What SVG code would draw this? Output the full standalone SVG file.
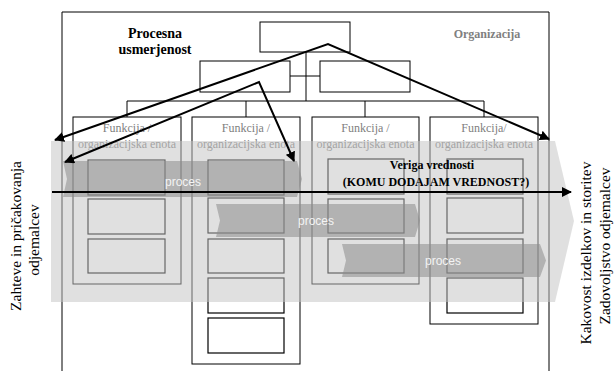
<svg xmlns="http://www.w3.org/2000/svg" width="614" height="371" viewBox="0 0 614 371">
  <defs>
    <marker id="head" viewBox="0 0 10 10" refX="9" refY="5" markerWidth="5" markerHeight="5" orient="auto-start-reverse" markerUnits="strokeWidth">
      <path d="M0,0 L10,5 L0,10 z" fill="#000"/>
    </marker>
    <style>
      .box { fill: #fff; stroke: #000; stroke-width: 1; }
      .inner { fill: #fff; stroke: #000; stroke-width: 1.2; }
      .line { stroke: #000; stroke-width: 1; fill: none; }
      .unit { font-family: "Liberation Serif", "Times New Roman", serif; font-size: 12px; fill: #808080; text-anchor: middle; }
      .band { fill: #c4c4c4; fill-opacity: 0.52; }
      .proc { fill: #8c8c8c; fill-opacity: 0.55; }
      .proclabel { font-family: "Liberation Sans", Arial, sans-serif; font-size: 12px; fill: #f4f4f4; text-anchor: middle; }
      .side { font-family: "Liberation Serif", "Times New Roman", serif; font-size: 15.5px; fill: #000; text-anchor: middle; }
      .arrow { stroke: #000; stroke-width: 2; fill: none; marker-end: url(#head); }
      .both { marker-start: url(#head); }
      .bold { font-family: "Liberation Serif", "Times New Roman", serif; font-weight: bold; text-anchor: middle; }
    </style>
  </defs>

  <!-- organisation frame -->
  <g id="organizacija">
    <path class="line" d="M62,371 V12 H549 V371"/>
    <text class="bold" x="487" y="38" font-size="12" fill="#808080">Organizacija</text>
  </g>

  <!-- hierarchy -->
  <g id="vodstvo"><rect class="box" x="260" y="22" width="90" height="30"/></g>
  <g id="oddelek-1"><rect class="box" x="200" y="61" width="90" height="31"/></g>
  <g id="oddelek-2"><rect class="box" x="320" y="61" width="90" height="31"/></g>

  <g id="connectors-org">
    <path class="line" d="M306,52 V101 M290,76 H320 M127,101 H484 M127,101 V117 M246,101 V117 M365,101 V117 M484,101 V117"/>
  </g>

  <!-- functional units -->
  <g id="funkcija-1">
    <rect class="box" x="73" y="117" width="108" height="167"/>
    <text class="unit" x="127" y="132">Funkcija /</text>
    <text class="unit" x="127" y="148">organizacijska enota</text>
    <rect class="inner" x="88" y="160" width="77" height="35"/>
    <rect class="inner" x="88" y="199" width="77" height="35"/>
    <rect class="inner" x="88" y="239" width="77" height="34"/>
  </g>
  <g id="funkcija-2">
    <rect class="box" x="192" y="117" width="108" height="247"/>
    <text class="unit" x="246" y="132">Funkcija /</text>
    <text class="unit" x="246" y="148">organizacijska enota</text>
    <rect class="inner" x="208" y="160" width="76" height="35"/>
    <rect class="inner" x="208" y="198" width="76" height="35"/>
    <rect class="inner" x="208" y="239" width="76" height="34"/>
    <rect class="inner" x="208" y="278" width="76" height="35"/>
    <rect class="inner" x="208" y="318" width="76" height="35"/>
  </g>
  <g id="funkcija-3">
    <rect class="box" x="312" y="117" width="107" height="167"/>
    <text class="unit" x="365.5" y="132">Funkcija /</text>
    <text class="unit" x="365.5" y="148">organizacijska enota</text>
    <rect class="inner" x="328" y="159" width="76" height="35"/>
    <rect class="inner" x="328" y="199" width="76" height="34"/>
    <rect class="inner" x="328" y="239" width="76" height="34"/>
  </g>
  <g id="funkcija-4">
    <rect class="box" x="430" y="117" width="108" height="207"/>
    <text class="unit" x="484" y="132">Funkcija/</text>
    <text class="unit" x="484" y="148">organizacijska enota</text>
    <rect class="inner" x="447" y="159" width="76" height="35"/>
    <rect class="inner" x="447" y="198" width="76" height="35"/>
    <rect class="inner" x="447" y="239" width="76" height="34"/>
    <rect class="inner" x="447" y="278" width="76" height="35"/>
  </g>

  <!-- value chain band -->
  <g id="veriga">
    <polygon class="band" points="51,141 555,141 574,221 555,302 51,302"/>
  </g>

  <!-- processes -->
  <g id="proces-1">
    <polygon class="proc" points="63,161 297,161 302,179 297,197 63,197 67,179"/>
    <text class="proclabel" x="183" y="186">proces</text>
  </g>
  <g id="proces-2">
    <polygon class="proc" points="216,204 415,204 420,220.5 415,237 216,237 220,220.5"/>
    <text class="proclabel" x="316" y="225">proces</text>
  </g>
  <g id="proces-3">
    <polygon class="proc" points="342,244 540,244 546,260.5 540,277 342,277 346,260.5"/>
    <text class="proclabel" x="443" y="265">proces</text>
  </g>

  <!-- headings -->
  <g id="procesna-usmerjenost">
    <text class="bold" x="155" y="37.5" font-size="14" fill="#000">Procesna</text>
    <text class="bold" x="155" y="53.5" font-size="14" fill="#000">usmerjenost</text>
  </g>
  <g id="veriga-vrednosti">
    <text class="bold" x="432" y="169" font-size="12" fill="#000">Veriga vrednosti</text>
    <text class="bold" x="436" y="186" font-size="12" fill="#000">(KOMU DODAJAM VREDNOST?)</text>
  </g>

  <!-- side labels -->
  <g id="zahteve">
    <text class="side" transform="translate(21,236) rotate(-90)">Zahteve in pričakovanja</text>
    <text class="side" transform="translate(39,240) rotate(-90)">odjemalcev</text>
  </g>
  <g id="kakovost">
    <text class="side" transform="translate(591,253) rotate(-90)">Kakovost izdelkov in storitev</text>
    <text class="side" transform="translate(610,246) rotate(-90)">Zadovoljstvo odjemalcev</text>
  </g>

  <!-- connectors -->
  <g id="connectors">
    <polyline class="arrow both" points="55,140 328,44 549,139"/>
    <polyline class="arrow both" points="65,162 259,82 294,161"/>
    <line class="arrow" x1="52" y1="192" x2="571" y2="192"/>
  </g>
</svg>
